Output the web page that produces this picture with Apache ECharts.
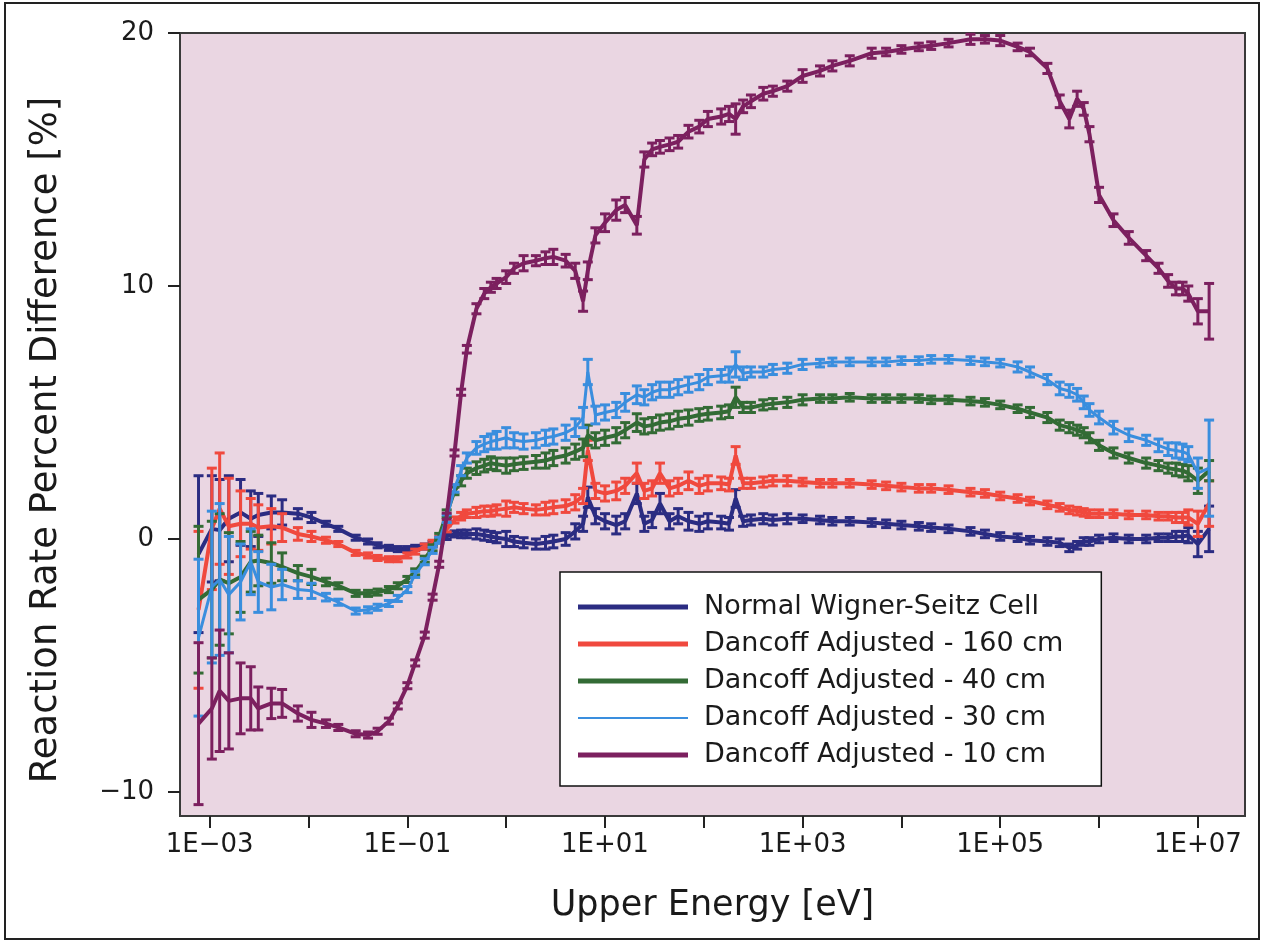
<!DOCTYPE html>
<html>
<head>
<meta charset="utf-8">
<script src="https://cdn.jsdelivr.net/npm/echarts@6/dist/echarts.min.js"></script>
<style>
html,body{margin:0;padding:0;background:#fff;}
#chart{width:1264px;height:942px;}
</style>
</head>
<body>
<div id="chart"></div>
<script>
// Upper energy of each group [eV]
const energies = [7.7e-4, 1.05e-3, 1.26e-3, 1.56e-3, 2.05e-3, 2.6e-3, 3.1e-3, 4.2e-3, 5.4e-3, 7.8e-3,
  1.07e-2, 1.5e-2, 2e-2, 3e-2, 4e-2, 5e-2, 6.5e-2, 8e-2, 0.1, 0.12,
  0.15, 0.18, 0.21, 0.25, 0.3, 0.35, 0.4, 0.5, 0.6, 0.7,
  0.8, 1.0, 1.2, 1.5, 2, 2.5, 3, 4, 5, 6,
  6.7, 8, 10, 13, 16, 21, 25, 30, 36, 45,
  55, 70, 90, 110, 150, 180, 210, 250, 300, 400,
  500, 700, 1000, 1500, 2000, 3000, 5000, 7000, 1e4, 1.5e4,
  2e4, 3e4, 5e4, 7e4, 1e5, 1.5e5, 2e5, 3e5, 4e5, 5e5,
  6e5, 7e5, 8e5, 1e6, 1.4e6, 2e6, 3e6, 4e6, 5e6, 6e6,
  7e6, 8e6, 1e7, 1.3e7];

const seriesNames = ['Normal Wigner-Seitz Cell', 'Dancoff Adjusted - 160 cm', 'Dancoff Adjusted - 40 cm', 'Dancoff Adjusted - 30 cm', 'Dancoff Adjusted - 10 cm'];

const normalWS = [-0.6, 0.4, 0.35, 0.8, 1.05, 0.8, 0.95, 1.05, 1.05, 1.0,
  0.85, 0.6, 0.4, 0.05, -0.1, -0.25, -0.35, -0.4, -0.4, -0.35,
  -0.3, -0.2, -0.05, 0.1, 0.2, 0.2, 0.2, 0.2, 0.15, 0.1,
  0.05, 0.0, -0.1, -0.15, -0.2, -0.15, -0.1, 0.0, 0.3, 0.6,
  1.65, 0.9, 0.7, 0.55, 0.7, 1.8, 0.6, 0.75, 1.4, 0.7,
  0.9, 0.7, 0.6, 0.7, 0.65, 0.6, 1.6, 0.7, 0.75, 0.8,
  0.75, 0.8, 0.8, 0.75, 0.7, 0.7, 0.65, 0.6, 0.55, 0.5,
  0.45, 0.4, 0.3, 0.2, 0.1, 0.05, -0.05, -0.1, -0.15, -0.35,
  -0.25, -0.1, -0.1, 0.0, 0.05, 0.0, 0.0, 0.05, 0.05, 0.1,
  0.1, 0.15, -0.2, 0.4];
const normalWSErr = [3.1, 2.1, 2.0, 1.7, 1.3, 1.1, 0.85, 0.65, 0.5, 0.2,
  0.2, 0.1, 0.1, 0.1, 0.1, 0.1, 0.1, 0.1, 0.1, 0.1,
  0.1, 0.1, 0.1, 0.12, 0.12, 0.15, 0.15, 0.2, 0.2, 0.2,
  0.2, 0.3, 0.2, 0.2, 0.2, 0.25, 0.25, 0.25, 0.3, 0.3,
  0.4, 0.3, 0.3, 0.35, 0.3, 0.4, 0.3, 0.3, 0.4, 0.3,
  0.3, 0.35, 0.3, 0.3, 0.25, 0.25, 0.35, 0.2, 0.2, 0.2,
  0.2, 0.2, 0.15, 0.15, 0.15, 0.15, 0.15, 0.15, 0.15, 0.15,
  0.15, 0.15, 0.15, 0.15, 0.15, 0.15, 0.15, 0.15, 0.15, 0.15,
  0.15, 0.15, 0.15, 0.15, 0.15, 0.15, 0.15, 0.15, 0.15, 0.2,
  0.2, 0.3, 0.5, 0.9];

const dancoff160 = [-2.8, 0.4, 1.2, 0.5, 0.6, 0.6, 0.45, 0.5, 0.45, 0.2,
  0.1, -0.05, -0.2, -0.55, -0.65, -0.75, -0.8, -0.8, -0.65, -0.5,
  -0.3, -0.15, 0.0, 0.4, 0.75, 0.9, 1.0, 1.05, 1.1, 1.1,
  1.15, 1.2, 1.25, 1.2, 1.15, 1.2, 1.25, 1.3, 1.45, 1.7,
  3.5, 1.9, 1.8, 1.9, 2.1, 2.6, 1.9, 2.0, 2.6, 2.0,
  2.1, 2.3, 2.1, 2.2, 2.2, 2.15, 3.3, 2.2, 2.2, 2.25,
  2.3, 2.3, 2.25, 2.2, 2.2, 2.2, 2.15, 2.1, 2.05, 2.0,
  2.0, 1.95, 1.85, 1.8, 1.7, 1.6, 1.5, 1.35, 1.25, 1.15,
  1.1, 1.05, 1.0, 1.0, 1.0, 0.95, 0.95, 0.9, 0.9, 0.85,
  0.85, 0.85, 0.6, 1.4];
const dancoff160Err = [3.1, 2.4, 2.2, 1.9, 1.3, 1.0, 0.9, 0.7, 0.55, 0.25,
  0.2, 0.12, 0.1, 0.1, 0.1, 0.1, 0.1, 0.1, 0.1, 0.1,
  0.1, 0.1, 0.1, 0.12, 0.12, 0.15, 0.15, 0.2, 0.2, 0.2,
  0.2, 0.3, 0.2, 0.2, 0.2, 0.25, 0.25, 0.25, 0.3, 0.3,
  0.4, 0.3, 0.3, 0.35, 0.3, 0.4, 0.3, 0.3, 0.4, 0.3,
  0.3, 0.35, 0.3, 0.3, 0.25, 0.25, 0.35, 0.2, 0.2, 0.2,
  0.2, 0.2, 0.15, 0.15, 0.15, 0.15, 0.15, 0.15, 0.15, 0.15,
  0.15, 0.15, 0.15, 0.15, 0.15, 0.15, 0.15, 0.15, 0.15, 0.15,
  0.15, 0.15, 0.15, 0.15, 0.15, 0.15, 0.15, 0.15, 0.15, 0.2,
  0.2, 0.3, 0.5, 0.9];

const dancoff40 = [-2.4, -2.0, -1.6, -1.75, -1.5, -0.9, -0.85, -0.95, -1.1, -1.35,
  -1.5, -1.7, -1.85, -2.15, -2.15, -2.1, -2.0, -1.85, -1.6, -1.3,
  -0.8, -0.35, 0.1, 1.0, 1.9, 2.3, 2.6, 2.8, 2.9, 3.0,
  2.95, 2.9, 2.95, 3.0, 3.05, 3.1, 3.2, 3.3, 3.45, 3.6,
  4.1, 3.9, 4.0, 4.1, 4.3, 4.6, 4.45, 4.5, 4.6, 4.65,
  4.75, 4.8, 4.9, 4.95, 5.0, 5.05, 5.6, 5.2, 5.2, 5.3,
  5.35, 5.4, 5.5, 5.55, 5.55, 5.6, 5.55, 5.55, 5.55, 5.55,
  5.5, 5.5, 5.45, 5.4, 5.3, 5.15, 5.0, 4.8, 4.5, 4.4,
  4.3, 4.2, 4.0, 3.7, 3.4, 3.2, 3.0, 2.9, 2.8, 2.75,
  2.7, 2.6, 2.3, 2.7];
const dancoff40Err = [2.9, 2.7, 2.6, 2.0, 1.4, 1.2, 1.0, 0.8, 0.55, 0.3,
  0.3, 0.15, 0.12, 0.12, 0.12, 0.12, 0.12, 0.12, 0.12, 0.12,
  0.12, 0.12, 0.12, 0.15, 0.15, 0.2, 0.2, 0.25, 0.25, 0.25,
  0.25, 0.3, 0.25, 0.25, 0.25, 0.3, 0.3, 0.3, 0.3, 0.35,
  0.4, 0.3, 0.3, 0.3, 0.3, 0.35, 0.3, 0.3, 0.3, 0.3,
  0.3, 0.3, 0.25, 0.25, 0.25, 0.25, 0.4, 0.2, 0.2, 0.2,
  0.2, 0.2, 0.2, 0.15, 0.15, 0.15, 0.15, 0.15, 0.15, 0.15,
  0.15, 0.15, 0.15, 0.15, 0.15, 0.15, 0.2, 0.2, 0.2, 0.2,
  0.2, 0.2, 0.2, 0.2, 0.2, 0.2, 0.2, 0.2, 0.2, 0.25,
  0.25, 0.3, 0.5, 0.4];

const dancoff30 = [-3.9, -1.9, -1.6, -2.2, -1.7, -0.9, -1.7, -1.9, -1.8, -2.0,
  -2.05, -2.3, -2.5, -2.85, -2.8, -2.7, -2.55, -2.35, -2.0, -1.4,
  -0.9, -0.45, -0.05, 0.8, 2.0, 2.7, 3.2, 3.6, 3.75, 3.85,
  3.9, 4.0, 3.9, 3.85, 3.9, 4.0, 4.05, 4.2, 4.4, 4.8,
  6.6, 4.9, 5.0, 5.1, 5.4, 5.7, 5.6, 5.8, 5.9, 5.9,
  6.0, 6.1, 6.2, 6.4, 6.45, 6.5, 6.9, 6.55, 6.6, 6.6,
  6.7, 6.75, 6.9, 6.95, 7.0, 7.0, 7.0, 7.0, 7.05, 7.05,
  7.1, 7.1, 7.05, 7.0, 6.95, 6.8, 6.6, 6.3, 5.95, 5.85,
  5.7, 5.4, 5.1, 4.8, 4.4, 4.1, 3.9, 3.7, 3.55, 3.5,
  3.45, 3.35, 2.6, 2.8];
const dancoff30Err = [3.1, 3.0, 3.0, 2.3, 1.5, 1.3, 1.2, 0.9, 0.6, 0.35,
  0.3, 0.15, 0.12, 0.12, 0.12, 0.12, 0.12, 0.12, 0.12, 0.12,
  0.12, 0.12, 0.12, 0.15, 0.15, 0.2, 0.2, 0.25, 0.3, 0.3,
  0.35, 0.4, 0.3, 0.3, 0.3, 0.3, 0.3, 0.3, 0.35, 0.4,
  0.5, 0.35, 0.3, 0.3, 0.35, 0.35, 0.3, 0.3, 0.3, 0.3,
  0.3, 0.3, 0.3, 0.3, 0.25, 0.3, 0.5, 0.25, 0.2, 0.2,
  0.2, 0.2, 0.2, 0.15, 0.15, 0.15, 0.15, 0.15, 0.15, 0.15,
  0.15, 0.15, 0.15, 0.15, 0.15, 0.2, 0.2, 0.2, 0.25, 0.25,
  0.25, 0.25, 0.25, 0.25, 0.25, 0.25, 0.2, 0.25, 0.25, 0.3,
  0.3, 0.3, 0.6, 1.9];

const dancoff10 = [-7.3, -6.7, -6.0, -6.4, -6.3, -6.3, -6.7, -6.5, -6.5, -6.9,
  -7.15, -7.3, -7.45, -7.7, -7.75, -7.6, -7.2, -6.6, -5.8, -4.9,
  -3.8, -2.3, -1.0, 0.9, 3.4, 5.8, 7.5, 9.1, 9.7, 9.95,
  10.1, 10.35, 10.7, 10.9, 11.0, 11.1, 11.15, 11.0, 10.6, 9.4,
  10.6, 12.0, 12.5, 13.0, 13.2, 12.4, 15.0, 15.4, 15.5, 15.6,
  15.7, 16.1, 16.3, 16.6, 16.7, 16.8, 16.6, 17.1, 17.3, 17.6,
  17.7, 17.9, 18.3, 18.5, 18.7, 18.9, 19.2, 19.25, 19.35, 19.45,
  19.5, 19.6, 19.75, 19.75, 19.7, 19.45, 19.25, 18.6, 17.3, 16.6,
  17.4, 17.0, 16.0, 13.6, 12.6, 11.9, 11.2, 10.7, 10.2, 9.9,
  9.9, 9.7, 9.0, 9.0];
const dancoff10Err = [3.2, 2.0, 2.4, 1.9, 1.4, 1.25, 0.85, 0.6, 0.55, 0.3,
  0.3, 0.15, 0.12, 0.12, 0.12, 0.12, 0.12, 0.12, 0.12, 0.12,
  0.12, 0.12, 0.12, 0.12, 0.12, 0.12, 0.15, 0.2, 0.2, 0.2,
  0.2, 0.25, 0.2, 0.3, 0.2, 0.25, 0.3, 0.25, 0.3, 0.4,
  0.35, 0.3, 0.35, 0.4, 0.3, 0.35, 0.3, 0.25, 0.25, 0.25,
  0.25, 0.25, 0.25, 0.3, 0.3, 0.3, 0.6, 0.25, 0.25, 0.25,
  0.2, 0.2, 0.25, 0.2, 0.2, 0.2, 0.2, 0.15, 0.15, 0.15,
  0.15, 0.15, 0.2, 0.15, 0.2, 0.15, 0.15, 0.2, 0.25, 0.35,
  0.3, 0.25, 0.3, 0.3, 0.25, 0.25, 0.2, 0.2, 0.25, 0.25,
  0.25, 0.3, 0.5, 1.1];

const xTickValues = [1e-3, 1e-2, 1e-1, 1e0, 1e1, 1e2, 1e3, 1e4, 1e5, 1e6, 1e7];
const xLabelValues = [1e-3, 1e-1, 1e1, 1e3, 1e5, 1e7];
const yTickValues = [-10, 0, 10, 20];
const yAxisTitle = 'Reaction Rate Percent Difference [%]';
const xAxisTitle = 'Upper Energy [eV]';

const values = [normalWS, dancoff160, dancoff40, dancoff30, dancoff10];
const errors = [normalWSErr, dancoff160Err, dancoff40Err, dancoff30Err, dancoff10Err];
const colors = ['#2b2c82', '#f0493e', '#336b35', '#3a8ede', '#7c205f'];
const lineWidths = [4, 4, 4, 3, 4];
// legend icons: thick bar for most series, thin bar for the 30 cm series
const thickIcon = 'path://M0,0L0,0ZM0,0.5L110,0.5L110,5.5L0,5.5ZM0,6L0,6Z';
const thinIcon = 'path://M0,0L0,0ZM0,2L110,2L110,4L0,4ZM0,6L0,6Z';
const legendIcons = [thickIcon, thickIcon, thickIcon, thinIcon, thickIcon];

const FONT = 'DejaVu Sans';
const series = [];
values.forEach((vals, k) => {
  const col = colors[k];
  series.push({
    name: seriesNames[k],
    type: 'line',
    data: energies.map((e, i) => [e, vals[i]]),
    showSymbol: false,
    symbol: 'none',
    lineStyle: {color: col, width: lineWidths[k]},
    itemStyle: {color: col},
    z: 2 + k * 2,
    animation: false
  });
  series.push({
    name: seriesNames[k] + ' err',
    type: 'custom',
    data: energies.map((e, i) => [e, vals[i] - errors[k][i], vals[i] + errors[k][i]]),
    encode: {x: 0, y: [1, 2]},
    z: 3 + k * 2,
    animation: false,
    renderItem: function (params, api) {
      const x = api.value(0);
      const p1 = api.coord([x, api.value(2)]);
      const p2 = api.coord([x, api.value(1)]);
      const w = 5;
      const st = {stroke: col, lineWidth: 3};
      return {
        type: 'group',
        children: [
          {type: 'line', shape: {x1: p1[0], y1: p1[1], x2: p2[0], y2: p2[1]}, style: st},
          {type: 'line', shape: {x1: p1[0] - w, y1: p1[1], x2: p1[0] + w, y2: p1[1]}, style: st},
          {type: 'line', shape: {x1: p2[0] - w, y1: p2[1], x2: p2[0] + w, y2: p2[1]}, style: st}
        ]
      };
    }
  });
});

function fmtX(v) {
  const p = Math.round(Math.log10(v));
  return '1E' + (p < 0 ? '\u2212' : '+') + String(Math.abs(p)).padStart(2, '0');
}
function fmtY(v) {
  return v < 0 ? '\u2212' + Math.abs(v) : String(v);
}

const chart = echarts.init(document.getElementById('chart'), null, {renderer: 'canvas'});
chart.setOption({
  backgroundColor: '#ffffff',
  animation: false,
  grid: {
    left: 180, right: 19, top: 33, bottom: 126,
    show: true, backgroundColor: '#ead6e2', borderColor: '#3a3a3a', borderWidth: 2
  },
  xAxis: {
    type: 'log', logBase: 10, min: 5e-4, max: 3e7,
    name: xAxisTitle, nameLocation: 'middle', nameGap: 72,
    nameTextStyle: {fontFamily: FONT, fontSize: 35, color: '#1a1a1a'},
    axisLine: {show: true, onZero: false, lineStyle: {color: '#3a3a3a', width: 2}},
    axisTick: {show: true, customValues: xTickValues, length: 12, lineStyle: {color: '#222', width: 2}},
    axisLabel: {customValues: xLabelValues, formatter: fmtX, fontFamily: FONT, fontSize: 26, color: '#1a1a1a', margin: 16},
    splitLine: {show: false}, minorTick: {show: false}
  },
  yAxis: {
    type: 'value', min: -10.95, max: 20,
    axisLine: {show: true, onZero: false, lineStyle: {color: '#3a3a3a', width: 2}},
    axisTick: {show: true, customValues: yTickValues, length: 12, lineStyle: {color: '#222', width: 2}},
    axisLabel: {customValues: yTickValues, formatter: fmtY, fontFamily: FONT, fontSize: 26, color: '#1a1a1a', margin: 26},
    splitLine: {show: false}
  },
  legend: {
    data: seriesNames.map((n, k) => ({name: n, icon: legendIcons[k], itemStyle: {color: colors[k]}})),
    orient: 'vertical', left: 560, top: 572,
    itemWidth: 110, itemHeight: 6,
    itemGap: 9,
    padding: [21, 38, 17, 18],
    backgroundColor: '#ffffff', borderColor: '#111', borderWidth: 1.5, borderRadius: 0,
    textStyle: {fontFamily: FONT, fontSize: 27, color: '#1a1a1a', lineHeight: 28, padding: [0, 0, 0, 11]},
    selectedMode: false
  },
  graphic: [{
    type: 'rect', shape: {x: 5, y: 3, width: 1254, height: 936},
    style: {fill: null, stroke: '#222', lineWidth: 2}, silent: true, z: 100
  }, {
    type: 'text', x: 46, y: 440, rotation: Math.PI / 2,
    style: {text: yAxisTitle, fontFamily: FONT, fontSize: 37, fill: '#1a1a1a', align: 'center', verticalAlign: 'middle'},
    silent: true, z: 100
  }],
  series: series
});
</script>
</body>
</html>
